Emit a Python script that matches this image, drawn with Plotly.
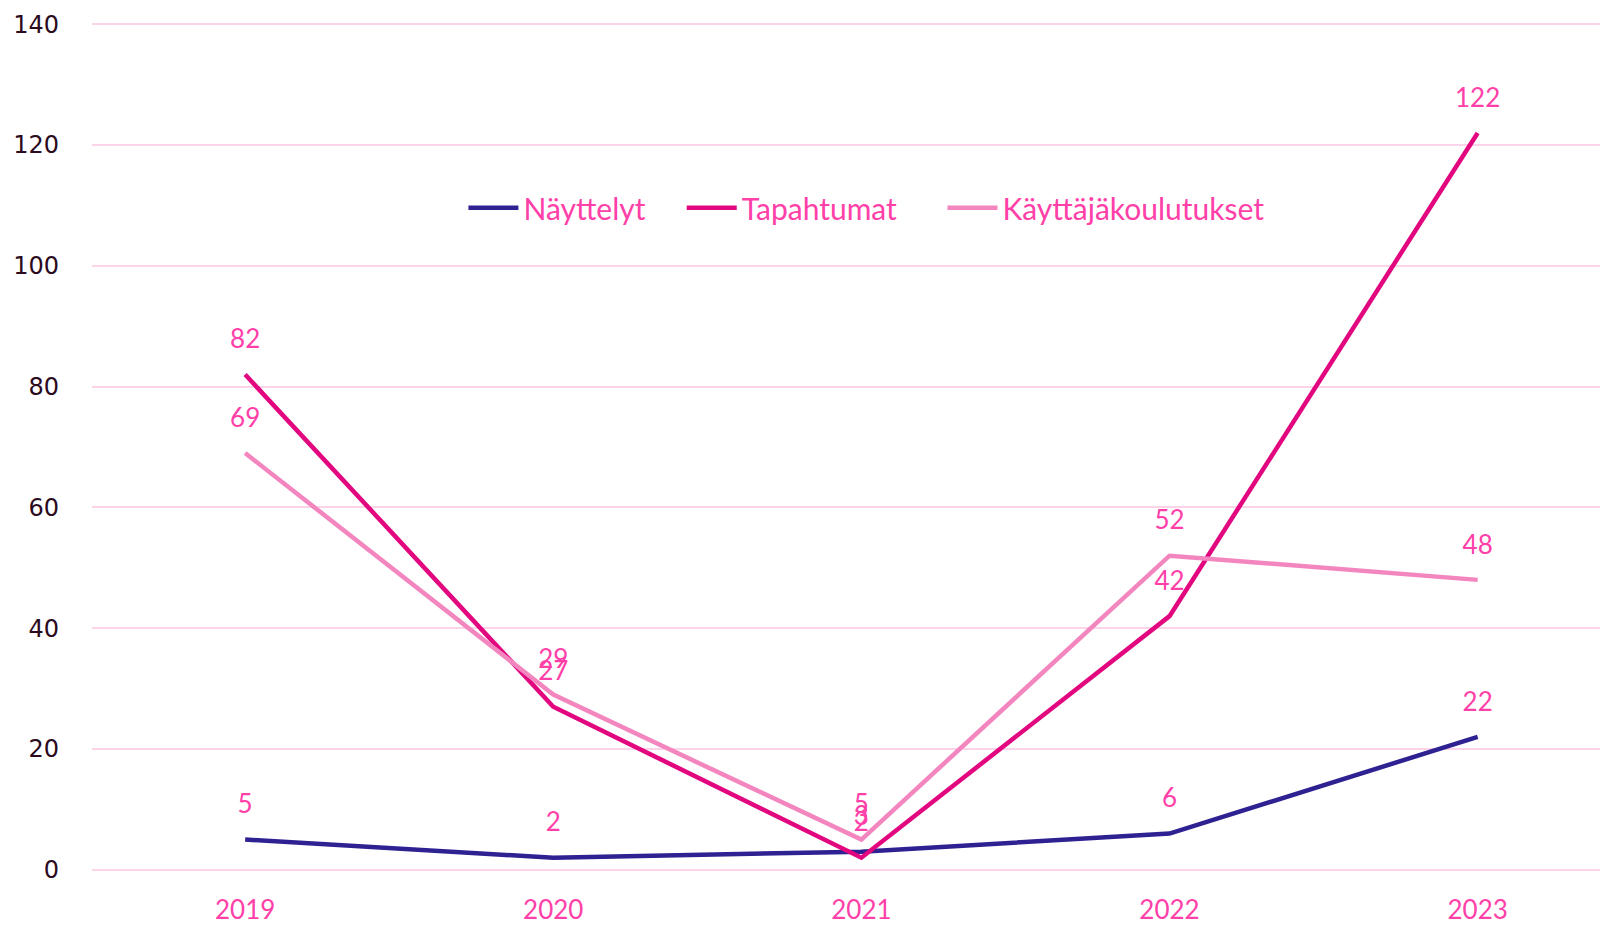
import plotly.graph_objects as go

years = ["2019", "2020", "2021", "2022", "2023"]
nayttelyt = [5, 2, 3, 6, 22]
tapahtumat = [82, 27, 2, 42, 122]
koulutukset = [69, 29, 5, 52, 48]
y_ticks = [0, 20, 40, 60, 80, 100, 120, 140]

text_pink = "#ff40a8"
series = [
    ("Näyttelyt", nayttelyt, "#2e2192", "legend", 0.245),
    ("Tapahtumat", tapahtumat, "#e2067f", "legend2", 0.389),
    ("Käyttäjäkoulutukset", koulutukset, "#f386bf", "legend3", 0.561),
]
xs = list(range(len(years)))

fig = go.Figure()
for name, vals, col, lg, lx in series:
    fig.add_trace(go.Scatter(
        x=xs, y=vals, name=name, mode="lines",
        line=dict(color=col, width=4.5), legend=lg,
    ))
for name, vals, col, lg, lx in series:
    fig.add_trace(go.Scatter(
        x=xs, y=vals, name=name, mode="markers+text", showlegend=False,
        marker=dict(size=30, opacity=0, color=col),
        text=[str(v) for v in vals], textposition="top center",
        textfont=dict(color=text_pink, size=26, family="Lato"),
        cliponaxis=False, hoverinfo="skip",
    ))

legend_common = dict(orientation="h", y=0.782, yanchor="middle", xanchor="left",
                     font=dict(color=text_pink, size=30, family="Lato"),
                     itemwidth=50, bgcolor="rgba(0,0,0,0)", borderwidth=0)
layout_legends = {}
for name, vals, col, lg, lx in series:
    layout_legends[lg] = dict(legend_common, x=lx)

fig.update_layout(
    width=1600, height=917,
    margin=dict(l=84, r=0, t=15, b=54, autoexpand=False),
    plot_bgcolor="white", paper_bgcolor="white",
    showlegend=True,
    **layout_legends,
)
fig.update_xaxes(
    range=[-0.497, 4.423], tickmode="array", tickvals=xs, ticktext=years,
    showgrid=False, zeroline=False, showline=False, automargin=False,
    tickfont=dict(color=text_pink, size=26, family="Lato"),
    ticks="outside", ticklen=0, ticklabelstandoff=16,
)
fig.update_yaxes(
    range=[-0.2, 140.2], tickvals=y_ticks, showgrid=True, gridcolor="#fbd4ea", gridwidth=1.5,
    zeroline=False, showline=False, automargin=False,
    tickfont=dict(color="#2a0a1c", size=24, family="DejaVu Sans"),
    ticklabelstandoff=32,
)
fig.write_html("out.html")
